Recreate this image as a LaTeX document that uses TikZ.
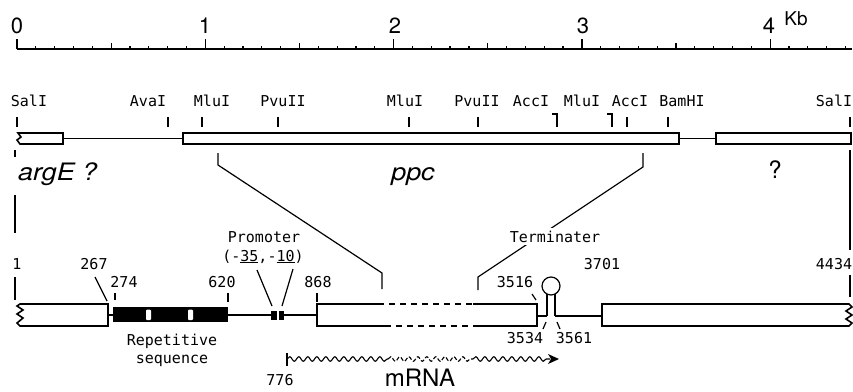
\documentclass[tikz,border=0pt]{standalone}
\usepackage{fontspec}
\newfontfamily\heros{TeX Gyre Heros}
\newfontfamily\dmono{DejaVu Sans Mono}
\usetikzlibrary{decorations.pathmorphing}
\begin{document}
\begin{tikzpicture}[x=1pt,y=-1pt,
  lnk/.style={line width=1.2pt},
  boxl/.style={line width=1.6pt, line join=miter},
  lab/.style={font=\fontsize{15}{17}\selectfont\dmono, anchor=base, inner sep=0pt},
  rnum/.style={font=\fontsize{22}{24}\selectfont\heros, anchor=base, inner sep=0pt},
  gname/.style={font=\fontsize{24}{26}\selectfont\heros\itshape, anchor=base, inner sep=0pt},
  wave/.style={line width=1.1pt, decorate, decoration={snake, amplitude=2.3pt, segment length=9pt}}]
\useasboundingbox (0,0) rectangle (853,391);
% ---------------- scale bar
\draw[lnk] (17,49) -- (852,49);
\foreach \i in {0,...,44}{
  \pgfmathsetmacro\xx{17+18.83*\i}
  \pgfmathsetmacro\hh{ifthenelse(mod(\i,10)==0,10,ifthenelse(mod(\i,5)==0,6,3))}
  \draw[lnk] (\xx,49) -- (\xx,49-\hh);
}
\node[rnum] (k0) at (17,33) {0};
\node[rnum] (k1) at (205,33) {1};
\node[rnum] (k2) at (395,33) {2};
\node[rnum] (k3) at (583,33) {3};
\node[rnum] (k4) at (769,33) {4};
\node[rnum, font=\fontsize{19}{20}\selectfont\heros] (kb) at (796,25) {Kb};
% ---------------- restriction map
\draw[lnk] (63,138.5) -- (183,138.5);
\draw[lnk] (679,138.5) -- (716,138.5);
\draw[boxl] (18,133) -- (63,133) -- (63,144) -- (20,144) -- (17,140) -- (21,137) -- cycle;
\draw[boxl] (183,133) rectangle (679,144);
\draw[boxl] (716,133) rectangle (851,144);
% site ticks
\foreach \x in {17,168,202,278,409,478,627,668,850}{\draw[lnk] (\x,117) -- (\x,127);}
\draw[lnk] (552,114) -- (557,114) -- (557,127);
\draw[lnk] (607,114) -- (612,114) -- (612,127);
% site labels
\node[lab] (s1) at (29,106) {SalI};
\node[lab] (s2) at (148,106) {AvaI};
\node[lab] (s3) at (212,106) {MluI};
\node[lab] (s4) at (283,106) {PvuII};
\node[lab] (s5) at (405,106) {MluI};
\node[lab] (s6) at (477,106) {PvuII};
\node[lab] (s7) at (531,106) {AccI};
\node[lab] (s8) at (582,106) {MluI};
\node[lab] (s9) at (630,106) {AccI};
\node[lab] (s10) at (682,106) {BamHI};
\node[lab] (s11) at (834,106) {SalI};
% gene names
\node[gname, anchor=base west] (argE) at (18,180) {\scalebox{1.12}[1]{argE ?}};
\node[gname] (ppc) at (413,180) {\scalebox{1.12}[1]{ppc}};
\node[gname, font=\fontsize{24}{26}\selectfont\heros] (unk) at (775,178) {?};
% expansion lines
\coordinate (pL1) at (218,153); \coordinate (pL2) at (218,165);
\coordinate (pL3) at (382,273); \coordinate (pL4) at (382,289);
\draw[lnk] (pL1) -- (pL2) -- (pL3) -- (pL4);
\coordinate (pR1) at (643,153); \coordinate (pR2) at (643,167);
\coordinate (pR3) at (478,277); \coordinate (pR4) at (478,290);
\draw[lnk] (pR1) -- (pR2) -- (pR3) -- (pR4);
\node[lab, fill=white, inner sep=3pt] (term) at (555,242) {Terminater};
% side verticals
\draw[lnk] (15,150) -- (15,157);
\draw[lnk] (15,195) -- (15,233);
\draw[lnk] (15,277) -- (15,300);
\draw[lnk] (850,150) -- (850,250);
\draw[lnk] (850,275) -- (850,297);
% ---------------- detailed map
\draw[lnk] (108,315) -- (113,315);
\draw[lnk] (228,315) -- (271,315);
\draw[lnk] (284,315) -- (317,315);
\draw[lnk] (537,316) -- (547,316);
\draw[lnk] (555,316) -- (602,316);
\draw[boxl] (20,304) -- (108,304) -- (108,326) -- (20,326) -- (17,323) -- (23,318) -- (17,314) -- (23,310) -- (17,306) -- cycle;
\fill (113,307) rectangle (228,322);
\fill[white, rounded corners=1pt] (146,309.5) rectangle (151,320);
\fill[white, rounded corners=1pt] (188,309.5) rectangle (193,320);
\fill (271,311) rectangle (277,320);
\fill (279,311) rectangle (284,320);
\draw[boxl] (378,304) -- (317,304) -- (317,326) -- (385,326);
\draw[boxl, dash pattern=on 6pt off 5pt] (378,304) -- (473,304);
\draw[boxl, dash pattern=on 6pt off 5pt] (385,326) -- (473,326);
\draw[boxl] (473,304) -- (537,304) -- (537,326) -- (473,326);
% stem loop
\draw[lnk] (547,316) -- (547,294);
\draw[lnk] (555,316) -- (555,294);
\draw[lnk] (551,286) circle (9);
\draw[boxl] (602,304) -- (849,304) -- (852,307) -- (846,311) -- (852,315) -- (846,319) -- (852,323) -- (849,326) -- (602,326) -- cycle;
% ticks and leaders
\draw[lnk] (115,293) -- (115,300);
\draw[lnk] (228,293) -- (228,302);
\draw[lnk] (317,293) -- (317,302);
\draw[lnk] (95,277) -- (107,301);
\draw[lnk] (257,270) -- (272,306);
\draw[lnk] (293,269) -- (282,306);
\draw[lnk] (532,294) -- (536,300);
\draw[lnk] (546,322) -- (543,329);
\draw[lnk] (557,322) -- (560,329);
% labels
\node[lab] (n1) at (17,269) {1};
\node[lab] (n267) at (94,269) {267};
\node[lab] (n274) at (124,287) {274};
\node[lab] (n620) at (222,287) {620};
\node[lab] (n868) at (318,287) {868};
\node[lab] (prom) at (264,242) {Promoter};
\node[lab] (prom2) at (263,261) {(-\underline{35},-\underline{10})};
\node[lab] (n3701) at (602,269) {3701};
\node[lab] (n4434) at (834,269) {4434};
\node[lab] (n3516) at (515,287) {3516};
\node[lab] (n3534) at (525,343) {3534};
\node[lab] (n3561) at (574,343) {3561};
\node[lab] (rep1) at (172,345) {Repetitive};
\node[lab] (rep2) at (172,363) {sequence};
\node[lab] (n776) at (280,385) {776};
\node[rnum, font=\fontsize{24}{26}\selectfont\heros] (mrna) at (420,386) {mRNA};
% mRNA arrow
\draw[lnk] (287,353) -- (287,366);
\coordinate (w0) at (287,359); \coordinate (w1) at (388,359);
\coordinate (w2) at (473,359); \coordinate (w3) at (550,359);
\draw[wave] (w0) -- (w1);
\draw[wave, dash pattern=on 4pt off 2pt] (w1) -- (w2);
\draw[wave] (w2) -- (w3);
\fill (559,359) -- (548,354) -- (551,359) -- (548,364) -- cycle;
\end{tikzpicture}
\end{document}
